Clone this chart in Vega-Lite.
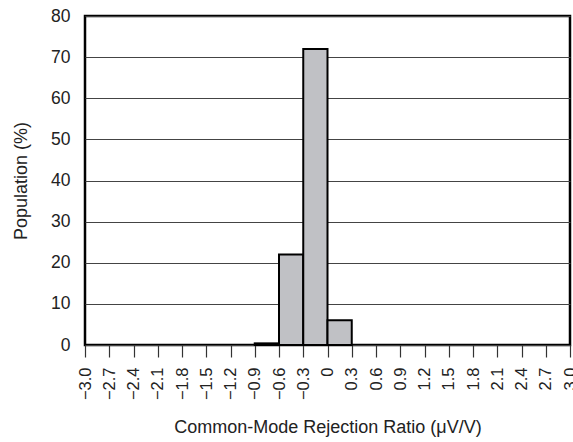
{
  "$schema": "https://vega.github.io/schema/vega-lite/v6.json",
  "autosize": {"type": "none"},
  "padding": {"left": 85, "top": 16, "right": 3, "bottom": 97},
  "width": 485,
  "height": 329,
  "background": "white",
  "config": {
    "font": "Liberation Sans",
    "view": {"stroke": "black", "strokeWidth": 2.5}
  },
  "data": {
    "values": [
      {"lo": -0.9, "hi": -0.6, "pct": 0.4},
      {"lo": -0.6, "hi": -0.3, "pct": 22},
      {"lo": -0.3, "hi": 0.0, "pct": 72},
      {"lo": 0.0, "hi": 0.3, "pct": 6}
    ]
  },
  "mark": {"type": "rect", "fill": "#c0c1c5", "stroke": "black", "strokeWidth": 2},
  "encoding": {
    "x": {
      "field": "lo", "type": "quantitative",
      "scale": {"domain": [-3, 3], "nice": false, "zero": false},
      "axis": {
        "values": [-3.0, -2.7, -2.4, -2.1, -1.8, -1.5, -1.2, -0.9, -0.6, -0.3, 0, 0.3, 0.6, 0.9, 1.2, 1.5, 1.8, 2.1, 2.4, 2.7, 3.0],
        "labelExpr": "datum.value == 0 ? '0' : format(datum.value, '.1f')",
        "labelAngle": 270, "labelAlign": "right", "labelBaseline": "middle",
        "labelFontSize": 16.5, "labelColor": "#222", "labelPadding": 10,
        "tickSize": 12, "tickColor": "#333", "tickWidth": 1.2,
        "domain": false, "grid": false,
        "title": "Common-Mode Rejection Ratio (μV/V)",
        "titleFontSize": 18, "titleFontWeight": "normal", "titleColor": "#222",
        "titlePadding": 19
      }
    },
    "x2": {"field": "hi"},
    "y": {
      "field": "pct", "type": "quantitative",
      "scale": {"domain": [0, 80], "nice": false},
      "axis": {
        "values": [0, 10, 20, 30, 40, 50, 60, 70, 80],
        "labelFontSize": 17.5, "labelColor": "#222", "labelPadding": 15,
        "ticks": false, "domain": false,
        "grid": true, "gridColor": "#444", "gridWidth": 1,
        "title": "Population (%)",
        "titleFontSize": 18, "titleFontWeight": "normal", "titleColor": "#222",
        "titlePadding": 20
      }
    },
    "y2": {"datum": 0}
  }
}
